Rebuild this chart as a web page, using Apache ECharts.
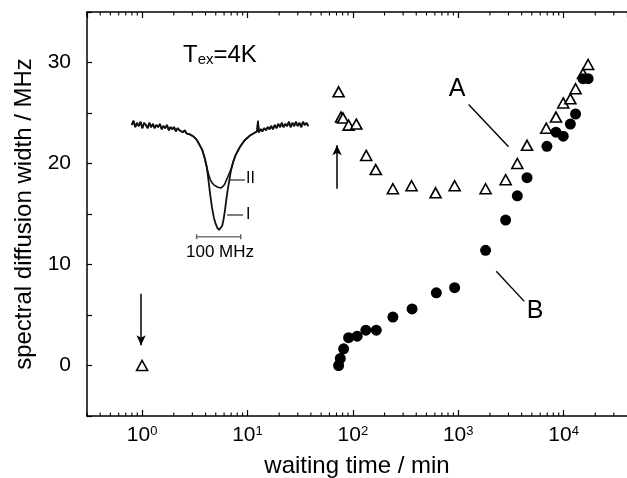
<!DOCTYPE html>
<html>
<head>
<meta charset="utf-8">
<style>
  html, body { margin: 0; padding: 0; background: #fff; }
  #chart { width: 627px; height: 478px; }
</style>
<script src="https://cdn.jsdelivr.net/npm/echarts@6.0.0/dist/echarts.min.js"></script>
</head>
<body>
<div id="chart"></div>
<script>
// open triangles (upper branch, A)
var triX = [1, 73.3, 77.3, 80.7, 91.2, 108, 134, 165, 240, 361, 610, 925, 1820, 2820, 3640, 4500, 6850, 8470, 9930, 11600, 13000, 15300, 17100];
var triY = [0, 27.1, 24.6, 24.5, 23.8, 23.9, 20.8, 19.4, 17.5, 17.8, 17.1, 17.8, 17.5, 18.4, 20.0, 21.8, 23.5, 24.6, 26.0, 26.4, 27.4, 28.9, 29.8];
// filled circles (lower branch, B)
var dotX = [73.3, 76, 81.8, 91.2, 110, 133, 167, 240, 365, 620, 925, 1820, 2820, 3640, 4500, 6950, 8470, 9930, 11600, 13000, 15300, 17100];
var dotY = [0.0, 0.7, 1.65, 2.75, 2.9, 3.5, 3.5, 4.8, 5.6, 7.2, 7.7, 11.4, 14.4, 16.8, 18.6, 21.7, 23.1, 22.7, 23.9, 24.9, 28.4, 28.4];

var yTicks = [0, 10, 20, 30];
var decades = [0.1, 1, 10, 100, 1000, 10000];
var minorMult = [2, 3, 4, 5, 6, 7, 8, 9];

// inset spectrum (MHz offset, relative transmission)
var wingLX = [-200, -196, -192, -188, -184, -180, -176, -172, -168, -164, -160, -156, -152, -148, -144, -140, -136, -132, -128, -124, -120, -116, -112, -108, -104, -100, -96, -92, -88, -84, -80, -76, -72, -68, -64];
var wingLY = [1.00, 1.04, 0.98, 1.02, 0.99, 1.03, 0.97, 1.02, 1.00, 0.97, 1.02, 0.98, 1.01, 0.97, 1.00, 0.98, 1.01, 0.96, 0.99, 0.97, 1.00, 0.95, 0.98, 0.96, 0.98, 0.94, 0.97, 0.95, 0.96, 0.93, 0.95, 0.92, 0.93, 0.91, 0.90];
var slopeLX = [-60, -55, -50, -45, -40, -35, -30];
var slopeLY = [0.89, 0.87, 0.84, 0.80, 0.76, 0.69, 0.60];
var dipX = [-26, -22, -18, -14, -10, -6, -2, 2, 5, 8, 11, 14, 17, 21, 25];
var dipIY = [0.47, 0.33, 0.21, 0.12, 0.06, 0.02, 0.0, 0.01, 0.04, 0.10, 0.18, 0.28, 0.37, 0.47, 0.57];
var dipIIY = [0.53, 0.48, 0.45, 0.43, 0.42, 0.41, 0.40, 0.40, 0.41, 0.42, 0.44, 0.47, 0.50, 0.54, 0.58];
var slopeRX = [30, 35, 40, 45, 50, 55, 60];
var slopeRY = [0.65, 0.71, 0.75, 0.79, 0.82, 0.85, 0.87];
var wingRX = [64, 68, 72, 76, 80, 84, 86, 88, 92, 96, 100, 104, 108, 112, 116, 120, 124, 128, 132, 136, 140, 144, 148, 152, 156, 160, 164, 168, 172, 176, 180, 184, 188, 192, 196, 200];
var wingRY = [0.88, 0.90, 0.89, 0.92, 0.91, 0.94, 1.04, 0.93, 0.96, 0.94, 0.97, 0.95, 0.98, 0.96, 0.99, 0.96, 1.00, 0.97, 1.01, 0.98, 1.02, 0.98, 1.01, 0.99, 1.03, 0.98, 1.02, 0.99, 1.03, 0.99, 1.02, 0.98, 1.03, 1.00, 1.02, 0.99];

var FONT = '"Liberation Sans", Arial, Helvetica, sans-serif';

function zip(xs, ys) {
  return xs.map(function (x, i) { return [x, ys[i]]; });
}

function spectrum(dipY) {
  return zip(wingLX, wingLY)
    .concat(zip(slopeLX, slopeLY))
    .concat(zip(dipX, dipY))
    .concat(zip(slopeRX, slopeRY))
    .concat(zip(wingRX, wingRY));
}

var minorTicks = [];
decades.forEach(function (d) {
  minorMult.forEach(function (m) {
    var v = d * m;
    if (v > 0.3 && v < 40000) minorTicks.push([v, 0]);
  });
});

var chart = echarts.init(document.getElementById('chart'));

var xAxisBase = {
  type: 'log',
  logBase: 10,
  min: 0.3,
  max: 40000,
  gridIndex: 0,
  splitLine: { show: false },
  axisLine: { show: true, onZero: false, lineStyle: { color: '#000', width: 1.5 } },
  axisTick: { show: true, inside: true, length: 6, lineStyle: { color: '#000', width: 1.2 } }
};

var option = {
  backgroundColor: '#fff',
  animation: false,
  grid: [
    { left: 87, top: 12, right: 0, bottom: 62, outerBoundsMode: 'none' },
    { left: 131.7, top: 114.5, width: 176.6, height: 136.5, outerBoundsMode: 'none' }
  ],
  xAxis: [
    Object.assign({}, xAxisBase, {
      position: 'bottom',
      name: 'waiting time / min',
      nameLocation: 'middle',
      nameGap: 38,
      nameTextStyle: { color: '#000', fontSize: 24, fontFamily: FONT },
      axisLabel: {
        margin: 9,
        color: '#000',
        fontFamily: FONT,
        showMinLabel: false,
        showMaxLabel: false,
        formatter: function (v) {
          var k = Math.log10(v);
          if (Math.abs(k - Math.round(k)) > 1e-6) return '';
          return '{b|10}{s|' + Math.round(k) + '}';
        },
        rich: {
          b: { fontSize: 21, fontFamily: FONT, color: '#000', verticalAlign: 'bottom' },
          s: { fontSize: 13, fontFamily: FONT, color: '#000', verticalAlign: 'top' }
        }
      }
    }),
    Object.assign({}, xAxisBase, {
      position: 'top',
      axisLabel: { show: false }
    }),
    {
      type: 'value', gridIndex: 1, min: -200, max: 200, show: false
    }
  ],
  yAxis: [
    {
      type: 'value',
      min: -5,
      max: 35,
      interval: 5,
      gridIndex: 0,
      name: 'spectral diffusion width / MHz',
      nameLocation: 'middle',
      nameGap: 49,
      nameTextStyle: { color: '#000', fontSize: 24, fontFamily: FONT },
      splitLine: { show: false },
      axisLine: { show: true, onZero: false, lineStyle: { color: '#000', width: 1.5 } },
      axisTick: { show: true, inside: true, length: 5, lineStyle: { color: '#000', width: 1.2 } },
      axisLabel: {
        margin: 16,
        color: '#000',
        fontSize: 21,
        fontFamily: FONT,
        formatter: function (v) { return yTicks.indexOf(v) >= 0 ? String(v) : ''; }
      }
    },
    {
      type: 'value', gridIndex: 1, min: -0.2, max: 1.1, show: false
    }
  ],
  series: [
    {
      name: 'minor ticks',
      type: 'custom',
      xAxisIndex: 0,
      yAxisIndex: 0,
      silent: true,
      data: minorTicks,
      renderItem: function (params, api) {
        var cs = params.coordSys;
        var px = api.coord([api.value(0), 0])[0];
        var yb = cs.y + cs.height;
        return {
          type: 'group',
          children: [
            { type: 'line', shape: { x1: px, y1: yb, x2: px, y2: yb - 3.5 }, style: { stroke: '#000', lineWidth: 1.1 } },
            { type: 'line', shape: { x1: px, y1: cs.y, x2: px, y2: cs.y + 3.5 }, style: { stroke: '#000', lineWidth: 1.1 } }
          ]
        };
      }
    },
    {
      name: 'A',
      type: 'scatter',
      xAxisIndex: 0,
      yAxisIndex: 0,
      data: zip(triX, triY),
      symbol: 'triangle',
      symbolSize: [11, 10],
      itemStyle: { color: '#fff', borderColor: '#000', borderWidth: 1.6, opacity: 1 },
      markLine: {
        silent: true,
        symbol: ['none', 'none'],
        label: { show: false },
        lineStyle: { color: '#000', width: 1.4, type: 'solid' },
        data: [
          [{ coord: [1256, 25.85] }, { coord: [3007, 21.66] }],
          [{ coord: [2298, 9.33] }, { coord: [4237, 6.35] }]
        ]
      }
    },
    {
      name: 'B',
      type: 'scatter',
      xAxisIndex: 0,
      yAxisIndex: 0,
      data: zip(dotX, dotY),
      symbol: 'circle',
      symbolSize: 11,
      itemStyle: { color: '#000', opacity: 1 },
      markLine: {
        silent: true,
        symbol: ['none', 'arrow'],
        symbolSize: [7, 10],
        label: { show: false },
        lineStyle: { color: '#000', width: 1.5, type: 'solid' },
        data: [
          [{ coord: [70.8, 17.5] }, { coord: [70.8, 21.8] }],
          [{ coord: [0.978, 7.1] }, { coord: [0.978, 2.0] }]
        ]
      }
    },
    {
      name: 'I',
      type: 'line',
      xAxisIndex: 2,
      yAxisIndex: 1,
      data: spectrum(dipIY),
      symbol: 'none',
      clip: false,
      lineStyle: { color: '#111', width: 1.8 }
    },
    {
      name: 'II',
      type: 'line',
      xAxisIndex: 2,
      yAxisIndex: 1,
      data: spectrum(dipIIY),
      symbol: 'none',
      clip: false,
      lineStyle: { color: '#111', width: 1.6 }
    },
    {
      name: 'scale',
      type: 'line',
      xAxisIndex: 2,
      yAxisIndex: 1,
      data: [[-53, -0.064], [47, -0.064]],
      symbol: 'rect',
      symbolSize: [1.5, 5],
      itemStyle: { color: '#666' },
      lineStyle: { color: '#777', width: 1.5 }
    }
  ],
  graphic: [
    {
      type: 'text', left: 183, top: 43,
      style: {
        text: '{t|T}{s|ex}{t|=4K}',
        rich: {
          t: { fontSize: 24, fontFamily: FONT, fill: '#000', verticalAlign: 'top' },
          s: { fontSize: 15, fontFamily: FONT, fill: '#000', verticalAlign: 'bottom' }
        }
      }
    },
    { type: 'text', style: { x: 457, y: 89, text: 'A', fontSize: 25, fontFamily: FONT, fill: '#000', align: 'center', verticalAlign: 'middle' } },
    { type: 'text', style: { x: 535, y: 311, text: 'B', fontSize: 25, fontFamily: FONT, fill: '#000', align: 'center', verticalAlign: 'middle' } },
    { type: 'text', style: { x: 246, y: 179, text: 'II', fontSize: 16, fontFamily: FONT, fill: '#000', align: 'left', verticalAlign: 'middle' } },
    { type: 'text', style: { x: 246, y: 215, text: 'I', fontSize: 16, fontFamily: FONT, fill: '#000', align: 'left', verticalAlign: 'middle' } },
    { type: 'line', shape: { x1: 230, y1: 180, x2: 245, y2: 180 }, style: { stroke: '#000', lineWidth: 1 } },
    { type: 'line', shape: { x1: 227, y1: 215, x2: 243, y2: 215 }, style: { stroke: '#000', lineWidth: 1 } },
    { type: 'text', style: { x: 220, y: 252, text: '100 MHz', fontSize: 17, fontFamily: FONT, fill: '#000', align: 'center', verticalAlign: 'middle' } }
  ]
};

chart.setOption(option);
</script>
</body>
</html>
